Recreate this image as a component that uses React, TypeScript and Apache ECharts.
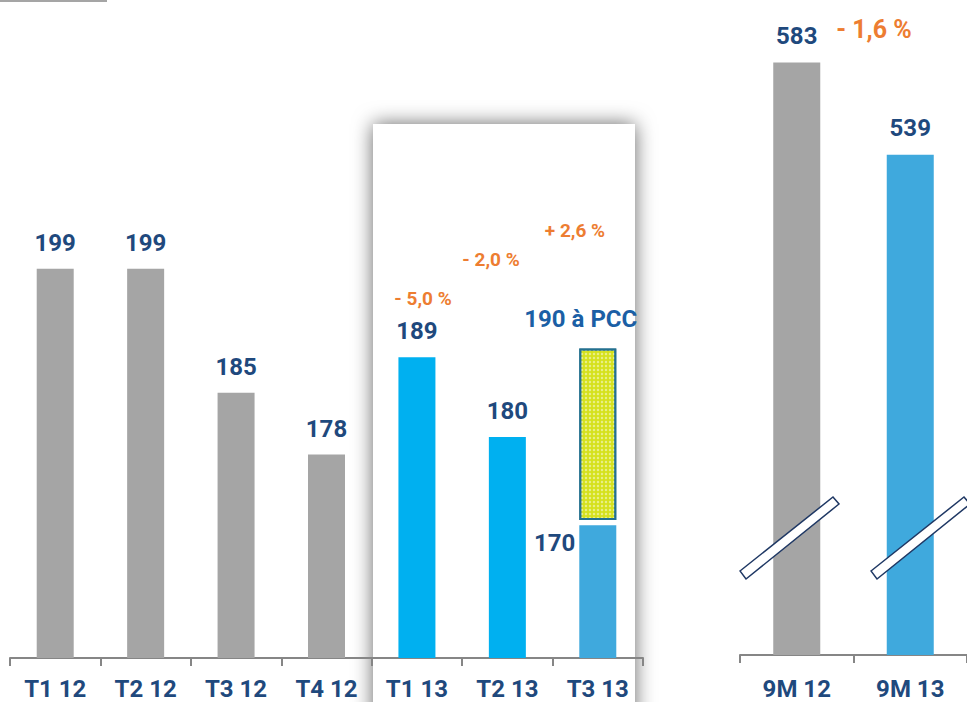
import React, { useEffect, useRef } from "react";
import * as echarts from "echarts";

// ---- data ----
const quarterCategories = ["T1 12", "T2 12", "T3 12", "T4 12", "T1 13", "T2 13", "T3 13"];
const quarterValues = [199, 199, 185, 178, 189, 180, 170];
const pccValue = 190; // T3 13 à PCC
const pccLabel = "190 à PCC";
const quarterChanges = ["- 5,0 %", "- 2,0 %", "+ 2,6 %"];
const nineMonthCategories = ["9M 12", "9M 13"];
const nineMonthValues = [583, 539];
const nineMonthChange = "- 1,6 %";

// ---- styles ----
const FONT = '"Liberation Sans Narrow", "Arial Narrow", "Roboto", sans-serif';
const NAVY = "#1f497d";
const ORANGE = "#ed7d31";
const GRAY = "#a5a5a5";
const CYAN = "#00b0f0";
const BLUE = "#3fa9dd";
const AXIS = "#868686";
const quarterColors = [GRAY, GRAY, GRAY, GRAY, CYAN, CYAN, BLUE];
const nineMonthColors = [GRAY, BLUE];

export default function App() {
  const ref = useRef<HTMLDivElement>(null);
  useEffect(() => {
    if (!ref.current) return;
    const chart = echarts.init(ref.current, undefined, { renderer: "svg" });
    const last = quarterValues.length - 1;
    const gap = 0.6;

    const mainData = quarterValues.map((v, i) => {
      const item: any = { value: v, itemStyle: { color: quarterColors[i] } };
      if (i === last) {
        item.label = { position: [-4, 18], align: "right", verticalAlign: "middle" };
      }
      return item;
    });
    const gapData = quarterValues.map((v, i) => (i === last ? gap : "-"));
    const pccData = quarterValues.map((v, i) => (i === last ? pccValue - v - gap : "-"));

    const labelBase = {
      show: true,
      position: "top",
      color: NAVY,
      fontFamily: FONT,
      fontWeight: "bold",
      fontSize: 24,
    };

    const axisCommon = {
      type: "category",
      axisLine: { show: true, lineStyle: { color: AXIS, width: 2 } },
      axisTick: { show: true, length: 8, lineStyle: { color: AXIS, width: 2 } },
      axisLabel: { color: NAVY, fontFamily: FONT, fontWeight: "bold", fontSize: 24, margin: 19 },
    };

    const changeX = [423, 491, 575];
    const changeY = [298, 259, 230];

    chart.setOption({
      animation: false,
      grid: [
        { left: 10, right: 324, top: 260, bottom: 44 },
        { left: 740, right: -3, top: 27, bottom: 47 },
      ],
      xAxis: [
        { ...axisCommon, gridIndex: 0, data: quarterCategories },
        { ...axisCommon, gridIndex: 1, data: nineMonthCategories, axisLabel: { ...axisCommon.axisLabel, margin: 22 } },
      ],
      yAxis: [
        { type: "value", gridIndex: 0, min: 155, max: 200, show: false, splitLine: { show: false } },
        { type: "value", gridIndex: 1, min: 300, max: 600, show: false, splitLine: { show: false } },
      ],
      graphic: [
        {
          type: "rect",
          z: -10,
          shape: { x: 373, y: 124, width: 262, height: 640 },
          style: { fill: "#ffffff", shadowBlur: 20, shadowColor: "rgba(0,0,0,0.6)" },
        },
        {
          type: "line",
          shape: { x1: 0, y1: 1, x2: 107, y2: 1 },
          style: { stroke: GRAY, lineWidth: 2 },
        },
        ...quarterChanges.map((t, i) => ({
          type: "text",
          x: changeX[i],
          y: changeY[i],
          style: {
            text: t,
            fill: ORANGE,
            fontFamily: FONT,
            fontWeight: "bold",
            fontSize: 19,
            align: "center",
            verticalAlign: "middle",
          },
        })),
        {
          type: "text",
          x: 874,
          y: 29,
          style: {
            text: nineMonthChange,
            fill: ORANGE,
            fontFamily: FONT,
            fontWeight: "bold",
            fontSize: 25,
            align: "center",
            verticalAlign: "middle",
          },
        },
        {
          type: "polygon",
          z: 100,
          shape: { points: [[740, 571], [833, 497], [839, 504], [746, 579]] },
          style: { fill: "#ffffff", stroke: "#1f3864", lineWidth: 1.5 },
        },
        {
          type: "polygon",
          z: 100,
          shape: { points: [[871, 571], [964, 497], [970, 504], [877, 579]] },
          style: { fill: "#ffffff", stroke: "#1f3864", lineWidth: 1.5 },
        },
      ],
      series: [
        {
          type: "bar",
          xAxisIndex: 0,
          yAxisIndex: 0,
          stack: "q",
          barWidth: 37,
          data: mainData,
          label: { ...labelBase, distance: 14 },
        },
        {
          type: "bar",
          xAxisIndex: 0,
          yAxisIndex: 0,
          stack: "q",
          barWidth: 37,
          data: gapData,
          itemStyle: { color: "rgba(0,0,0,0)" },
          silent: true,
        },
        {
          type: "bar",
          xAxisIndex: 0,
          yAxisIndex: 0,
          stack: "q",
          barWidth: 37,
          data: pccData,
          itemStyle: {
            color: "#d5e11d",
            borderColor: "#24708f",
            borderWidth: 2,
            decal: {
              symbol: "diamond",
              symbolSize: 0.7,
              color: "rgba(255,255,255,0.55)",
              dashArrayX: [[4, 0]],
              dashArrayY: [4, 0],
            },
          },
          label: {
            ...labelBase,
            color: "#1b5fa5",
            distance: 17,
            offset: [-17, 0],
            formatter: () => pccLabel,
          },
        },
        {
          type: "bar",
          xAxisIndex: 1,
          yAxisIndex: 1,
          barWidth: 47,
          data: nineMonthValues.map((v, i) => ({ value: v, itemStyle: { color: nineMonthColors[i] } })),
          label: { ...labelBase, distance: 15 },
        },
      ],
    });
    return () => chart.dispose();
  }, []);
  return (
    <div
      ref={ref}
      style={{ position: "fixed", left: 0, top: 0, width: 967, height: 702, background: "#ffffff" }}
    />
  );
}
